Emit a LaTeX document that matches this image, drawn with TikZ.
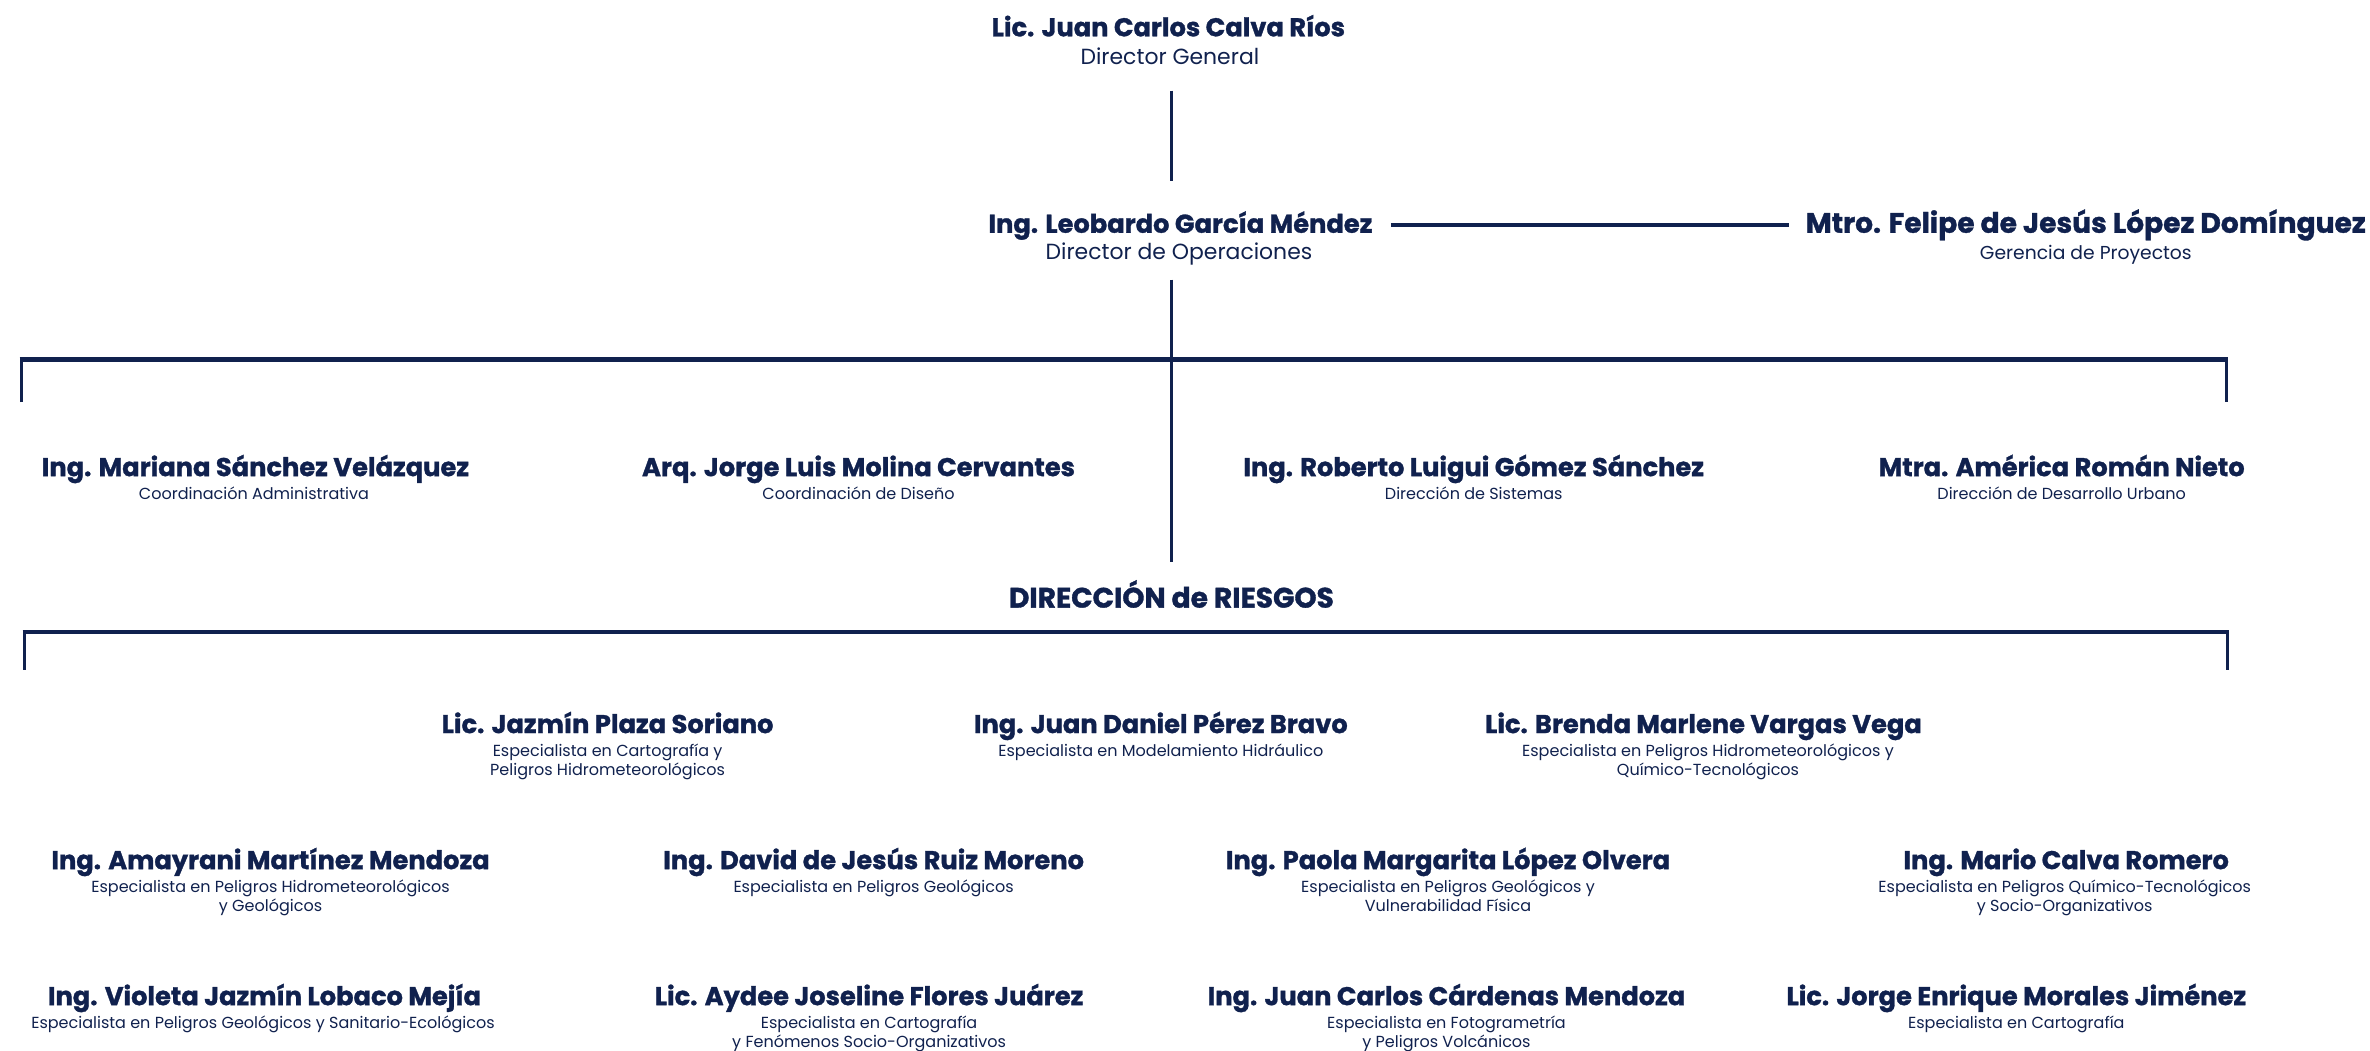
\documentclass[tikz,border=0pt]{standalone}
\usepackage{fontspec}
\setmainfont{Poppins}
\newfontfamily\heavyfont{Poppins}[BoldFeatures={FakeBold=1.2}]
\usetikzlibrary{calc}
\definecolor{navy}{RGB}{16,33,78}
\begin{document}
\begin{tikzpicture}[x=1pt,y=-1pt,
 nm/.style={font=\fontsize{17}{20}\heavyfont\bfseries, text=navy, anchor=base, inner sep=0},
 nmbig/.style={nm, font=\fontsize{18.6}{22}\heavyfont\bfseries},
 nmcap/.style={nm, font=\fontsize{18.6}{22}\heavyfont\bfseries},
 tp/.style={font=\fontsize{14.5}{17}\selectfont, text=navy, anchor=base, inner sep=0},
 tpsm/.style={tp, font=\fontsize{12.4}{15}\selectfont},
 sb/.style={font=\fontsize{10.6}{13}\selectfont, text=navy, anchor=north, inner sep=0, align=center},
 ln/.style={draw=navy, line width=2pt},
 hl/.style={draw=navy, line width=3pt}]
\useasboundingbox (0,0) rectangle (1568,695);
\fill[white] (0,0) rectangle (1568,695);

% top
\node[nm] (dg) at (773,24) {Lic. Juan Carlos Calva Ríos};
\node[tp] (dgs) at (774,43) {Director General};
\node[nm] (dop) at (781,154) {Ing. Leobardo García Méndez};
\node[tp] (dops) at (780,172) {Director de Operaciones};
\node[nmbig] (fel) at (1380,154) {Mtro. Felipe de Jesús López Domínguez};
\node[tpsm] (fels) at (1380,172) {Gerencia de Proyectos};

% row 2
\node[nm] (ms) at (169,315) {Ing. Mariana Sánchez Velázquez};
\node[sb] (mss) at (168,321) {\strut Coordinación Administrativa};
\node[nm] (jm) at (568,315) {Arq. Jorge Luis Molina Cervantes};
\node[sb] (jms) at (568,321) {\strut Coordinación de Diseño};
\node[nm] (rg) at (975,315) {Ing. Roberto Luigui Gómez Sánchez};
\node[sb] (rgs) at (975,321) {\strut Dirección de Sistemas};
\node[nm] (ar) at (1364,315) {Mtra. América Román Nieto};
\node[sb] (ars) at (1364,321) {\strut Dirección de Desarrollo Urbano};

\node[nmcap] (rie) at (775,402) {DIRECCIÓN de RIESGOS};

% row 3
\node[nm] (jp) at (402,485) {Lic. Jazmín Plaza Soriano};
\node[sb] (jps) at (402,491) {\strut Especialista en Cartografía y\\\strut Peligros Hidrometeorológicos};
\node[nm] (jd) at (768,485) {Ing. Juan Daniel Pérez Bravo};
\node[sb] (jds) at (768,491) {\strut Especialista en Modelamiento Hidráulico};
\node[nm] (bv) at (1127,485) {Lic. Brenda Marlene Vargas Vega};
\node[sb] (bvs) at (1130,491) {\strut Especialista en Peligros Hidrometeorológicos y\\\strut Químico-Tecnológicos};

% row 4
\node[nm] (am) at (179,575) {Ing. Amayrani Martínez Mendoza};
\node[sb] (ams) at (179,581) {\strut Especialista en Peligros Hidrometeorológicos\\\strut y Geológicos};
\node[nm] (dr) at (578,575) {Ing. David de Jesús Ruiz Moreno};
\node[sb] (drs) at (578,581) {\strut Especialista en Peligros Geológicos};
\node[nm] (pl) at (958,575) {Ing. Paola Margarita López Olvera};
\node[sb] (pls) at (958,581) {\strut Especialista en Peligros Geológicos y\\\strut Vulnerabilidad Física};
\node[nm] (mc) at (1367,575) {Ing. Mario Calva Romero};
\node[sb] (mcs) at (1366,581) {\strut Especialista en Peligros Químico-Tecnológicos\\\strut y Socio-Organizativos};

% row 5
\node[nm] (vl) at (175,665) {Ing. Violeta Jazmín Lobaco Mejía};
\node[sb] (vls) at (174,671) {\strut Especialista en Peligros Geológicos y Sanitario-Ecológicos};
\node[nm] (af) at (575,665) {Lic. Aydee Joseline Flores Juárez};
\node[sb] (afs) at (575,671) {\strut Especialista en Cartografía\\\strut y Fenómenos Socio-Organizativos};
\node[nm] (jc) at (957,665) {Ing. Juan Carlos Cárdenas Mendoza};
\node[sb] (jcs) at (957,671) {\strut Especialista en Fotogrametría\\\strut y Peligros Volcánicos};
\node[nm] (jmj) at (1334,665) {Lic. Jorge Enrique Morales Jiménez};
\node[sb] (jmjs) at (1334,671) {\strut Especialista en Cartografía};

% connectors
\draw[ln] ($(dgs.base)+(1,17)$) -- ($(dop.base)+(-6,-34)$);
\draw[hl] ($(dop.base east)+(12,-5)$) -- ($(fel.base west)+(-11,-5)$);
\draw[ln] ($(dops.base)+(-5,13)$) -- ($(rie.base)+(0,-30)$);

\coordinate (b1a) at (14,266);
\coordinate (b1b) at (14,238);
\coordinate (b1c) at (1473,238);
\coordinate (b1d) at (1473,266);
\draw[ln] (b1a) -- (b1b);
\draw[ln] (b1c) -- (b1d);
\draw[hl] ([xshift=-1pt]b1b) -- ([xshift=1pt]b1c);

\coordinate (b2a) at (16,443);
\coordinate (b2b) at (16,418);
\coordinate (b2c) at (1474,418);
\coordinate (b2d) at (1474,443);
\draw[ln] (b2a) -- (b2b);
\draw[ln] (b2c) -- (b2d);
\draw[hl] ([xshift=-1pt]b2b) -- ([xshift=1pt]b2c);
\end{tikzpicture}
\end{document}
